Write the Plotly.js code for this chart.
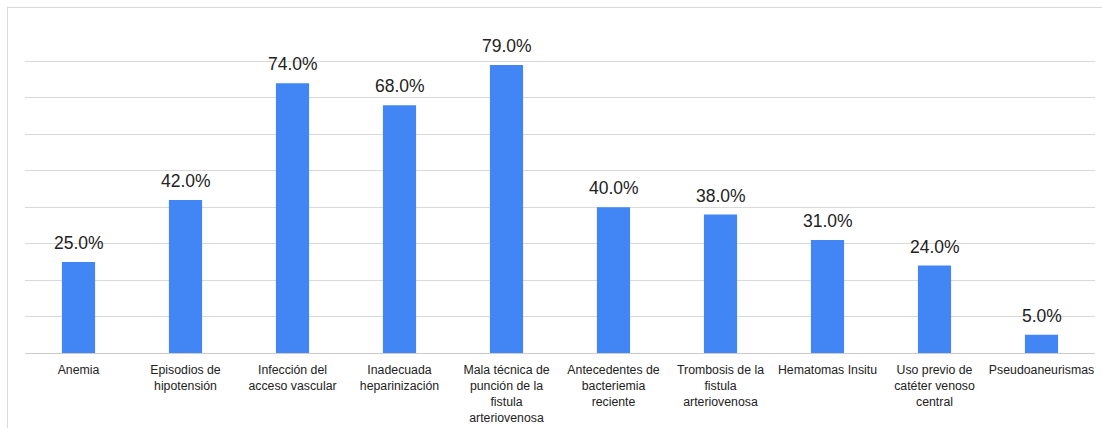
<!DOCTYPE html>
<html><head><meta charset="utf-8">
<script src="https://cdn.plot.ly/plotly-3.0.1.min.js"></script>
<style>
html,body{margin:0;padding:0;background:#fff;overflow:hidden;}
#frame{position:absolute;left:7px;top:7px;width:1120px;height:440px;border:1px solid #dadada;box-sizing:border-box;}
#chart{position:absolute;left:0;top:0;width:1102px;height:428px;}
</style></head>
<body>
<div id="frame"></div>
<div id="chart"></div>
<script>
const categories = ["Anemia","Episodios de hipotensión","Infección del acceso vascular","Inadecuada heparinización","Mala técnica de punción de la fistula arteriovenosa","Antecedentes de bacteriemia reciente","Trombosis de la fistula arteriovenosa","Hematomas Insitu","Uso previo de catéter venoso central","Pseudoaneurismas"];
const tickLabels = ["Anemia","Episodios de<br>hipotensión","Infección del<br>acceso vascular","Inadecuada<br>heparinización","Mala técnica de<br>punción de la<br>fistula<br>arteriovenosa","Antecedentes de<br>bacteriemia<br>reciente","Trombosis de la<br>fistula<br>arteriovenosa","Hematomas Insitu","Uso previo de<br>catéter venoso<br>central","Pseudoaneurismas"];
const values = [25,42,74,68,79,40,38,31,24,5];

const trace = {
  type:'bar', x:categories, y:values,
  marker:{color:'#4285F4'},
  hoverinfo:'none'
};
const annotations = categories.map((c,i)=>({
  x:c, y:values[i], xref:'x', yref:'y',
  text: values[i].toFixed(1)+'%', showarrow:false,
  yanchor:'bottom', yshift:7,
  font:{family:'Liberation Sans, Arial, sans-serif', size:17.5, color:'#222222'}
}));
const layout = {
  width:1102, height:428,
  margin:{l:25,r:7,t:25,b:75},
  paper_bgcolor:'rgba(0,0,0,0)', plot_bgcolor:'rgba(0,0,0,0)',
  bargap:0.69,
  showlegend:false,
  font:{family:'Liberation Sans, Arial, sans-serif', color:'#222222', size:12},
  xaxis:{
    tickvals:categories, ticktext:tickLabels, ticks:'', showgrid:false,
    showline:false, tickfont:{size:12.3, color:'#222222'}, tickangle:0, automargin:false,
    ticklabelstandoff:8
  },
  yaxis:{
    range:[0,90], dtick:10, showticklabels:false, ticks:'',
    gridcolor:'#d9d9d9', gridwidth:1, zeroline:true, zerolinecolor:'#cccccc', zerolinewidth:1,
    fixedrange:true
  },
  annotations:annotations
};
Plotly.newPlot('chart',[trace],layout,{displayModeBar:false,staticPlot:true});
</script>
</body></html>
